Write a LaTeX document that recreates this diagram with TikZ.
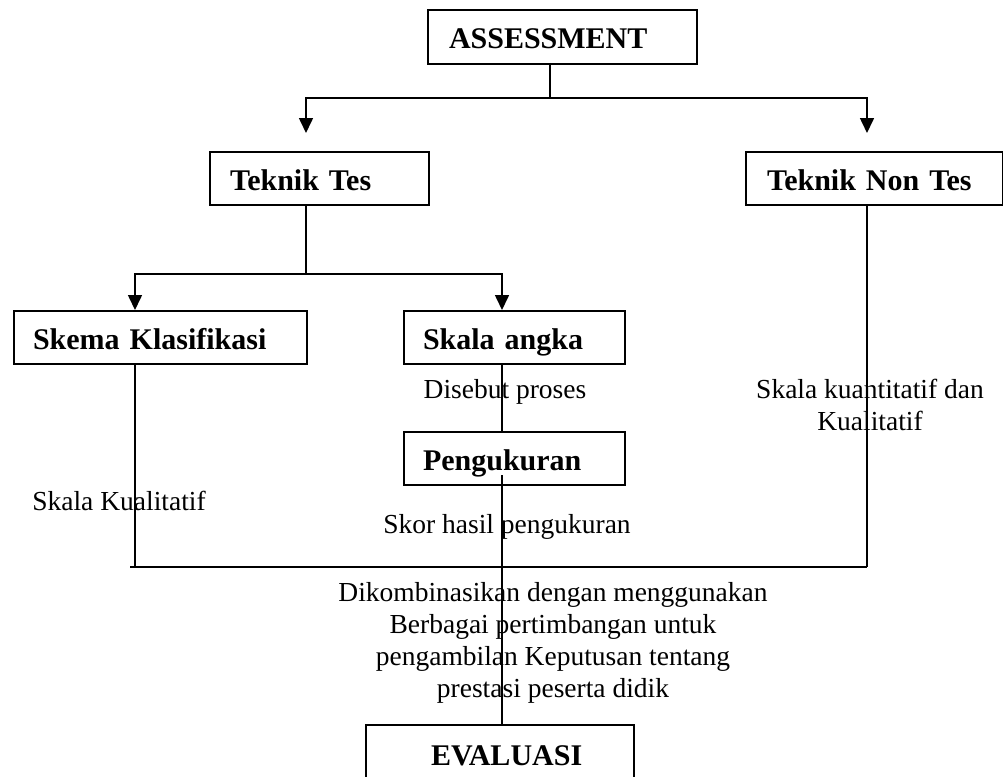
\documentclass[tikz,border=0pt]{standalone}
\usepackage{fontspec}
\setmainfont{Liberation Serif}
\usetikzlibrary{arrows.meta,calc}
\newcommand{\bfnt}{\fontsize{30}{36}\selectfont\bfseries}
\newcommand{\rfnt}{\fontsize{27.5}{31.8}\selectfont}
\tikzset{
  boxnode/.style={draw, line width=2pt, inner xsep=0pt, inner ysep=0pt,
    text width=#1, align=left, anchor=north west, minimum height=53pt,
    font=\bfnt, text height=25pt, text depth=2pt},
  conn/.style={line width=1.6pt},
  arr/.style={line width=1.6pt, -{Triangle[length=15pt,width=14pt]}},
  lbl/.style={font=\rfnt, inner sep=0pt, align=center}
}
\begin{document}
\begin{tikzpicture}[x=1pt,y=-1pt]
\useasboundingbox (0,0) rectangle (1003,776);
\clip (0,0) rectangle (1003,776);
% boxes
\node[boxnode=269pt, minimum height=54pt] (assess) at (427,9) {\hspace*{21pt}ASSESSMENT};
\node[boxnode=219pt] (tes) at (209,151) {\hspace*{20pt}Teknik Tes};
\node[boxnode=257pt] (nontes) at (745,151) {\hspace*{21pt}Teknik Non Tes};
\node[boxnode=293pt] (skema) at (13,310) {\hspace*{19pt}Skema Klasifikasi};
\node[boxnode=221pt] (skala) at (403,310) {\hspace*{19pt}Skala angka};
\node[boxnode=221pt] (ukur) at (403,431) {\hspace*{19pt}Pengukuran};
\node[boxnode=268pt, minimum height=58pt] (eval) at (365,724) {\hspace*{65pt}EVALUASI};
% coordinates
\coordinate (a0) at (550,63);
\coordinate (j1) at (550,98);
\coordinate (tl) at (306,133);
\coordinate (tr) at (867,133);
\coordinate (t0) at (306,204);
\coordinate (j2) at (306,274);
\coordinate (sl) at (135,310);
\coordinate (sr) at (502,310);
\coordinate (k0) at (135,363);
\coordinate (k1) at (135,567);
\coordinate (s0) at (502,363);
\coordinate (s1) at (502,431);
\coordinate (u0) at (502,475);
\coordinate (u1) at (502,724);
\coordinate (n0) at (867,204);
\coordinate (n1) at (867,567);
\coordinate (bl) at (130,567);
% connectors
\draw[conn] (a0) -- (j1);
\draw[arr] (j1) -| (tl);
\draw[arr] (j1) -| (tr);
\draw[conn] (t0) -- (j2);
\draw[arr] (j2) -| (sl);
\draw[arr] (j2) -| (sr);
\draw[conn] (k0) -- (k1);
\draw[conn] (s0) -- (s1);
\draw[conn] (u0) -- (u1);
\draw[conn] (n0) -- (n1);
\draw[line width=2pt] (bl) -- (n1);
% labels
\node[lbl, anchor=base] (l1) at (505,398) {Disebut proses};
\node[lbl, anchor=base] (l2) at (870,430) {Skala kuantitatif dan\\Kualitatif};
\node[lbl, anchor=base] (l3) at (119,510) {Skala Kualitatif};
\node[lbl, anchor=base] (l4) at (507,533) {Skor hasil pengukuran};
\node[lbl, anchor=base] (l5) at (553,697) {Dikombinasikan dengan menggunakan\\Berbagai pertimbangan untuk\\pengambilan Keputusan tentang\\prestasi peserta didik};
\end{tikzpicture}
\end{document}
